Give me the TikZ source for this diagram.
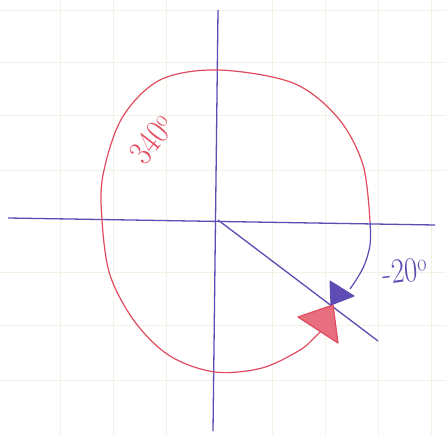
\documentclass[tikz,border=0pt]{standalone}
\usepackage{fontspec}
\begin{document}
\begin{tikzpicture}[x=1pt,y=-1pt,
  axis/.style={draw=axisblue,line width=1.3pt},
  redline/.style={draw=penred,line width=1.2pt},
  blueline/.style={draw=axisblue,line width=1.2pt},
  gridline/.style={draw=gridc,line width=0.6pt},
  lbl/.style={inner sep=0pt,font=\fontsize{35}{35}\selectfont}]
\definecolor{axisblue}{RGB}{95,75,180}
\definecolor{penred}{RGB}{225,75,95}
\definecolor{gridc}{RGB}{243,240,228}
\useasboundingbox (0,0) rectangle (446,435);
\fill[white] (0,0) rectangle (446,435);
% faint paper grid
\foreach \x in {60,113,166,272,325,378,431} \draw[gridline] (\x,0) -- (\x,435);
\foreach \y in {10,62,115,170,272,325,380} \draw[gridline] (0,\y) -- (446,\y);
% coordinates
\coordinate (O) at (218,220);
\coordinate (ytop) at (218,10);
\coordinate (ybot) at (213,431);
\coordinate (xl) at (8,218);
\coordinate (xr) at (435,225);
\coordinate (rayend) at (378,341);
% axes
\draw[axis] (ytop) -- (ybot);
\draw[axis] (xl) -- (xr);
\draw[axis] (O) -- (rayend);
% red arc (340 deg)
\draw[redline] plot[smooth,tension=0.55] coordinates {(370,222) (363,165) (338,118) (293,83) (218,70) (160,80) (122,118) (103,175) (102,220) (110,275) (135,322) (170,356) (215,372) (262,368) (300,350) (316,336) (324,328)};
% blue arc (-20 deg)
\draw[blueline] plot[smooth,tension=0.6] coordinates {(370,222) (370,245) (363,268) (350,289)};
% arrowheads
\filldraw[draw=penred,fill=penred!80,line width=1.2pt,line join=round] (298,317) -- (333,305) -- (338,343) -- cycle;
\filldraw[draw=axisblue,fill=axisblue,line width=1pt,line join=round] (330,281) -- (331,305) -- (354,296) -- cycle;
% labels
\node[lbl,text=penred,rotate=52,xscale=0.85] (l340) at (152,139) {340\textsuperscript{o}};
\node[lbl,text=axisblue,xscale=0.82,rotate=6] (l20) at (405,271) {-20\textsuperscript{o}};
\end{tikzpicture}
\end{document}
